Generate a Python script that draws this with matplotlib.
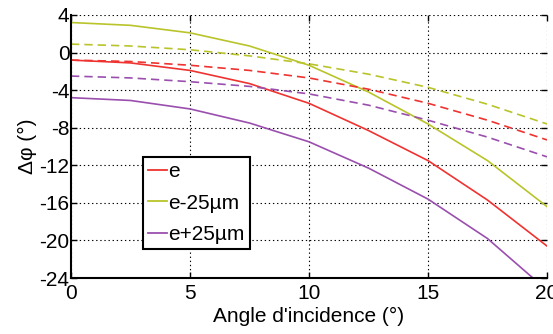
import numpy as np
import matplotlib
matplotlib.use('Agg')
from matplotlib import pyplot as plt
from matplotlib.lines import Line2D

plt.rcParams['font.family'] = ['Liberation Sans', 'DejaVu Sans']
plt.rcParams['axes.unicode_minus'] = False

# angle of incidence (deg)
angle = [0, 2.5, 5, 7.5, 10, 12.5, 15, 17.5, 20]

# solid curves
e_solid = [-0.8, -1.1, -1.9, -3.3, -5.4, -8.3, -11.5, -15.7, -20.6]
em_solid = [3.2, 2.9, 2.1, 0.7, -1.35, -4.2, -7.6, -11.5, -16.4]
ep_solid = [-4.8, -5.1, -6.0, -7.5, -9.5, -12.3, -15.6, -19.8, -25.3]

# dashed curves
e_dash = [-0.8, -0.95, -1.35, -1.9, -2.7, -3.9, -5.4, -7.2, -9.3]
em_dash = [0.9, 0.7, 0.3, -0.35, -1.2, -2.3, -3.7, -5.5, -7.6]
ep_dash = [-2.5, -2.7, -3.1, -3.6, -4.4, -5.6, -7.2, -9.0, -11.1]

labels = ['e', 'e-25µm', 'e+25µm']
colors = ['#ee3330', '#b9c42a', '#9a4fae']

fig = plt.figure(figsize=(5.53, 3.34), dpi=100)
ax = fig.add_axes([71/553, 1 - 278/334, 476/553, 263/334])

for ys, c in zip([e_solid, em_solid, ep_solid], colors):
    ax.plot(angle, ys, '-', color=c, lw=1.2)
for ys, c in zip([e_dash, em_dash, ep_dash], colors):
    ax.plot(angle, ys, '--', color=c, lw=1.2, dashes=(5, 3))

ax.set_xlim(0, 20)
ax.set_ylim(-24, 4)
ax.set_xticks([0, 5, 10, 15, 20])
ax.set_yticks(np.arange(-24, 5, 4))
ax.grid(True, color='black', linestyle=(0, (1.2, 2.5)), lw=0.8)
ax.spines['top'].set_visible(False)
ax.spines['right'].set_visible(False)
ax.spines['left'].set_linewidth(1.5)
ax.spines['bottom'].set_linewidth(1.5)
ax.tick_params(direction='in', labelsize=15, length=4, width=1, pad=1,
               top=True, right=True)
ax.tick_params(axis='x', pad=4)
ax.set_xlabel("Angle d'incidence (°)", fontsize=15, labelpad=3)
ax.set_ylabel('Δφ (°)', fontsize=15, labelpad=2)

handles = [Line2D([0], [0], color=c, lw=1.3) for c in colors]
leg = ax.legend(handles, labels, loc='upper left', bbox_to_anchor=(72/476, (278-157)/263),
                fontsize=15, frameon=True, fancybox=False, framealpha=1,
                edgecolor='black', handlelength=0.9, handletextpad=0.05,
                borderpad=0.25, labelspacing=0.6, borderaxespad=0)
leg.get_frame().set_linewidth(1.5)

fig.savefig('out.png', dpi=100)
